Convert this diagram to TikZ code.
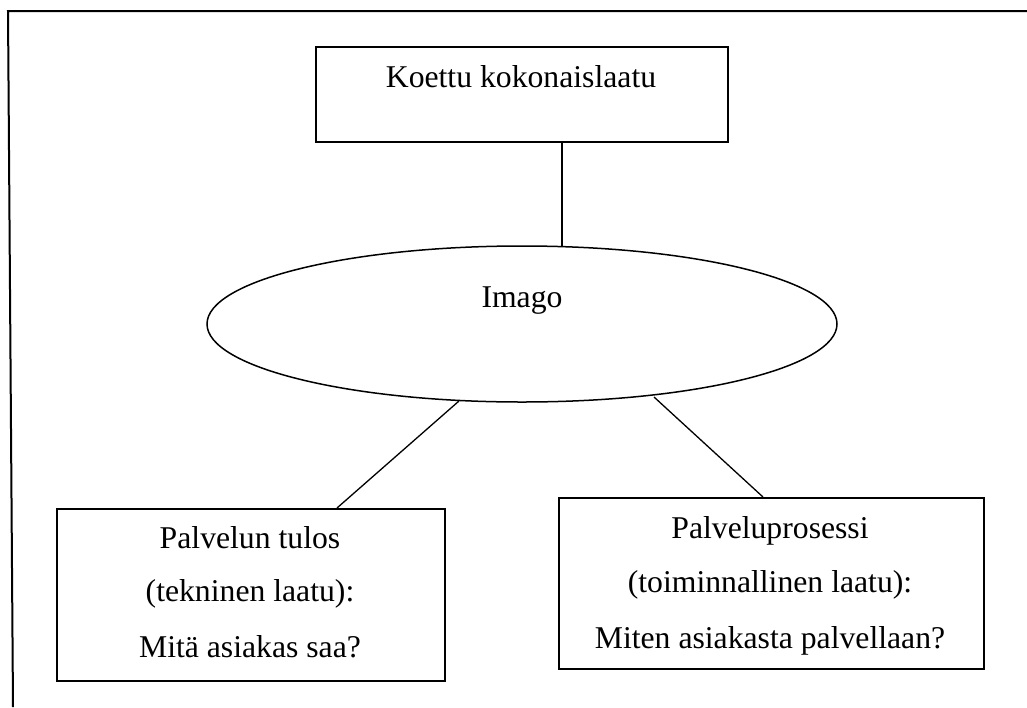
\documentclass[tikz,border=0pt]{standalone}
\usepackage{fontspec}
\setmainfont{Liberation Serif}
\usetikzlibrary{shapes.geometric}
\begin{document}
\begin{tikzpicture}[x=1pt,y=-1pt,
  boxshape/.style={draw,line width=1.8pt,inner sep=0pt,anchor=north west},
  link/.style={line width=1.3pt},
  lbl/.style={anchor=base,inner sep=0pt,font=\fontsize{31.7}{38}\selectfont},
  frameline/.style={line width=2pt}]
\useasboundingbox (0,0) rectangle (1027,707);
% frame
\coordinate (fa) at (13,707);
\coordinate (fb) at (8,11);
\coordinate (fc) at (1027,11);
\draw[frameline] (fa) -- (fb) -- (fc);
% top box
\node[boxshape,minimum width=412pt,minimum height=95pt] (top) at (315,46) {};
\node[lbl] (toptxt) at (521,87) {Koettu kokonaislaatu};
% ellipse
\node[draw,ellipse,line width=1.5pt,minimum width=630pt,minimum height=156pt,inner sep=0pt] (imago) at (522,324) {};
\node[lbl] (imagotxt) at (522,307) {Imago};
% lower boxes
\node[boxshape,minimum width=388pt,minimum height=172pt] (left) at (56,508) {};
\node[boxshape,minimum width=425pt,minimum height=171pt] (right) at (558,497) {};
\node[lbl] (l1) at (250,548) {Palvelun tulos};
\node[lbl] (l2) at (250,601) {(tekninen laatu):};
\node[lbl] (l3) at (250,657) {Mitä asiakas saa?};
\node[lbl] (r1) at (770,538) {Palveluprosessi};
\node[lbl] (r2) at (770,592) {(toiminnallinen laatu):};
\node[lbl] (r3) at (770,648) {Miten asiakasta palvellaan?};
% connectors
\coordinate (ta) at (562,141);
\coordinate (tb) at (562,246);
\coordinate (la) at (459,401);
\coordinate (lb) at (337,508);
\coordinate (ra) at (654,397);
\coordinate (rb) at (763,497);
\draw[link] (ta) -- (tb);
\draw[link] (la) -- (lb);
\draw[link] (ra) -- (rb);
\end{tikzpicture}
\end{document}
